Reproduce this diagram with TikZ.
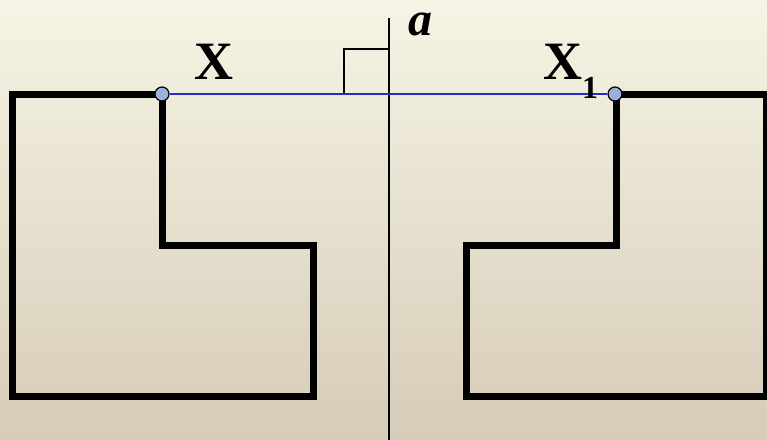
\documentclass[tikz,border=0pt]{standalone}
\usepackage{fontspec}
\setmainfont{Liberation Serif}
\begin{document}
\begin{tikzpicture}[x=1pt,y=-1pt,
  shapeline/.style={line width=7pt,line join=miter,black},
  dot/.style={circle,draw=black,line width=1.2pt,fill=dotblue,minimum size=14pt,inner sep=0pt},
  lbl/.style={inner sep=0pt,font=\fontsize{54}{54}\selectfont\bfseries}]
\definecolor{dotblue}{HTML}{9AB2DA}
\definecolor{linkblue}{HTML}{2A2ACC}
\useasboundingbox (0,0) rectangle (767,439);
\clip (0,0) rectangle (767,439);
\shade[top color={rgb,255:red,246;green,244;blue,228}, bottom color={rgb,255:red,214;green,204;blue,184}] (0,0) rectangle (767,439);
% axis
\draw[line width=1.8pt] (389,18) -- (389,440);
% right-angle mark
\draw[line width=2.8pt,line join=miter] (344,94) -- (344,49) -- (389,49);
% left shape
\draw[shapeline] (162,94) -- (12,94) -- (12,396) -- (313,396) -- (313,245) -- (162,245) -- cycle;
% right shape
\draw[shapeline] (616,94) -- (766,94) -- (766,396) -- (466,396) -- (466,245) -- (616,245) -- cycle;
% points
\node[dot] (X) at (162,94) {};
\node[dot] (X1) at (615,94) {};
\draw[linkblue,line width=1.8pt] (X) -- (X1);
% labels
\node[lbl,anchor=base] (lx) at (214,79) {X};
\node[lbl,anchor=base west] (lx1) at (543,79) {X\raisebox{-19pt}{\fontsize{32}{32}\selectfont 1}};
\node[lbl,anchor=base,font=\fontsize{48}{48}\selectfont\bfseries\itshape] (la) at (420,35) {a};
\end{tikzpicture}
\end{document}
